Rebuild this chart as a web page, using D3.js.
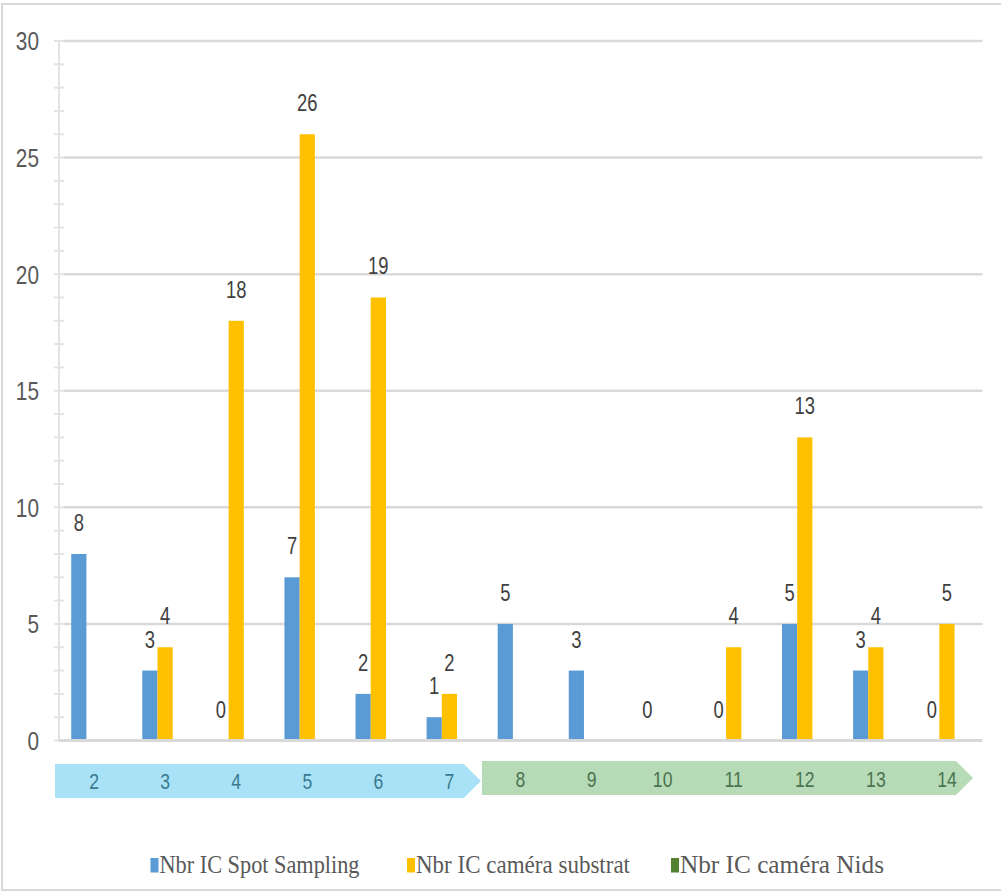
<!DOCTYPE html>
<html>
<head>
<meta charset="utf-8">
<script src="https://cdn.jsdelivr.net/npm/d3@7"></script>
<style>
  html, body { margin: 0; padding: 0; background: #fff; }
  svg { display: block; }
</style>
</head>
<body>
<svg id="chart" width="1001" height="891"></svg>
<script>
// ---- data ----
const categories = ["2","3","4","5","6","7","8","9","10","11","12","13","14"];
const spotSampling = [8, 3, 0, 7, 2, 1, 5, 3, 0, 0, 5, 3, 0];
const cameraSubstrat = [null, 4, 18, 26, 19, 2, null, null, null, 4, 13, 4, 5];
const cameraNids = [null, null, null, null, null, null, null, null, null, null, null, null, null];
const seriesNames = ["Nbr IC Spot Sampling", "Nbr IC caméra substrat", "Nbr IC caméra Nids"];
const yTicks = [0, 5, 10, 15, 20, 25, 30];
const phaseGroups = [
  { first: "2", last: "7" },
  { first: "8", last: "14" }
];

// ---- styles ----
const colors = ["#5b9bd5", "#ffc000", "#548235"];
const phaseFill = ["#a9e2f6", "#b6dbb6"];
const phaseText = ["#3a7a8f", "#4a7350"];
const sans = "'Liberation Sans', Arial, sans-serif";
const serif = "'Liberation Serif', 'Times New Roman', serif";
const narrow = 0.8;

const svg = d3.select("#chart");

function place(sel, fx, fy) {
  return sel.attr("transform", (d, i) => `translate(${fx(d, i)},${fy(d, i)}) scale(${narrow},1)`);
}

// outer frame
svg.append("rect").attr("x", 2).attr("y", 4).attr("width", 1010).attr("height", 886)
  .attr("fill", "#fff").attr("stroke", "#d9d9d9").attr("stroke-width", 2);

const x = d3.scaleBand().domain(categories).range([58.5, 982.5]).padding(0);
const y = d3.scaleLinear().domain([0, 30]).range([740.5, 41]);
const groupW = x.bandwidth() * 0.642;
const xs = d3.scaleBand().domain(seriesNames).range([0, groupW]).padding(0);

// gridlines
svg.append("g").selectAll("line").data(yTicks.filter(t => t > 0)).join("line")
  .attr("x1", 64).attr("x2", 982.5)
  .attr("y1", d => y(d)).attr("y2", d => y(d))
  .attr("stroke", "#d9d9d9").attr("stroke-width", 2.5);

// y axis line and minor ticks
svg.append("line").attr("x1", 59).attr("x2", 59).attr("y1", y(30)).attr("y2", y(0))
  .attr("stroke", "#e3e3e3").attr("stroke-width", 2);
svg.append("g").selectAll("line").data(d3.range(0, 31)).join("line")
  .attr("x1", 54).attr("x2", 64)
  .attr("y1", d => y(d)).attr("y2", d => y(d))
  .attr("stroke", "#e3e3e3").attr("stroke-width", 2);

// y tick labels
place(svg.append("g").selectAll("text").data(yTicks).join("text"), () => 39, d => y(d))
  .attr("dy", "0.36em")
  .attr("text-anchor", "end")
  .attr("font-family", sans).attr("font-size", 26).attr("fill", "#595959")
  .text(d => d);

// bars
const seriesData = [spotSampling, cameraSubstrat, cameraNids];
seriesData.forEach((vals, si) => {
  const g = svg.append("g");
  const pts = categories.map((c, i) => ({ c, v: vals[i] })).filter(d => d.v !== null);
  const bx = d => x(d.c) + (x.bandwidth() - groupW) / 2 + xs(seriesNames[si]);
  g.selectAll("rect").data(pts.filter(d => d.v > 0)).join("rect")
    .attr("x", bx)
    .attr("width", xs.bandwidth())
    .attr("y", d => y(d.v))
    .attr("height", d => y(0) - y(d.v))
    .attr("fill", colors[si]);
  place(g.selectAll("text").data(pts).join("text"),
        d => bx(d) + xs.bandwidth() / 2, d => y(d.v) - 23)
    .attr("text-anchor", "middle")
    .attr("font-family", sans).attr("font-size", 23).attr("fill", "#404040")
    .text(d => d.v);
});

// x axis line
svg.append("line").attr("x1", 59).attr("x2", 982.5).attr("y1", y(0)).attr("y2", y(0))
  .attr("stroke", "#d9d9d9").attr("stroke-width", 3);

// phase arrows
phaseGroups.forEach((pg, gi) => {
  const top = gi === 0 ? 764 : 761;
  const h = 34;
  const left = gi === 0 ? x(pg.first) - 3.5 : x(pg.first) - 3;
  const tip = x(pg.last) + x.bandwidth() - (gi === 0 ? 4 : 9.5);
  const shoulder = tip - 17;
  const path = d3.path();
  path.moveTo(left, top);
  path.lineTo(shoulder, top);
  path.lineTo(tip, top + h / 2);
  path.lineTo(shoulder, top + h);
  path.lineTo(left, top + h);
  path.closePath();
  svg.append("path").attr("d", path.toString()).attr("fill", phaseFill[gi]);
  const i0 = categories.indexOf(pg.first), i1 = categories.indexOf(pg.last);
  place(svg.append("g").selectAll("text").data(categories.slice(i0, i1 + 1)).join("text"),
        d => x(d) + x.bandwidth() / 2, () => top + 25 + (gi === 0 ? 0 : 1))
    .attr("text-anchor", "middle")
    .attr("font-family", sans).attr("font-size", 22).attr("fill", phaseText[gi])
    .text(d => d);
});

// legend
const legendX = [150.5, 407, 671];
const legendW = [200, 214, 204];
const lg = svg.append("g");
seriesNames.forEach((name, i) => {
  lg.append("rect").attr("x", legendX[i]).attr("y", 858).attr("width", 8).attr("height", 14.5)
    .attr("fill", colors[i]);
  lg.append("text").attr("x", legendX[i] + 9).attr("y", 873)
    .attr("font-family", serif).attr("font-size", 25).attr("fill", "#595959")
    .attr("textLength", legendW[i]).attr("lengthAdjust", "spacingAndGlyphs")
    .text(name);
});
</script>
</body>
</html>
